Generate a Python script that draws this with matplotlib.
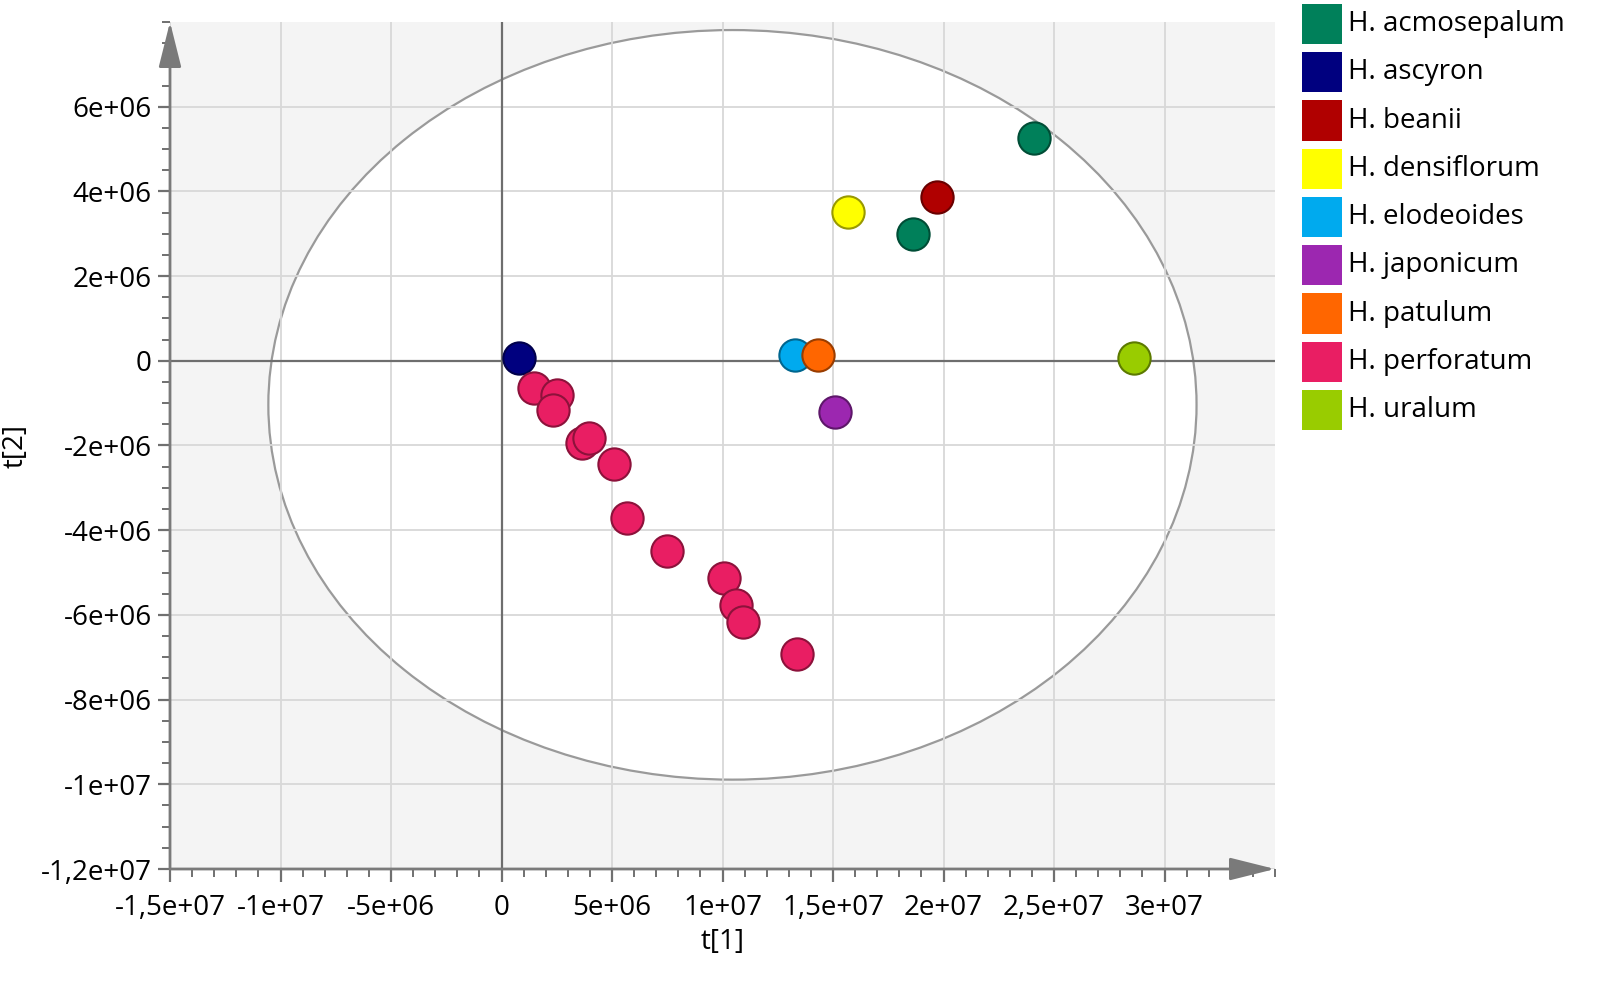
import matplotlib.pyplot as plt
import numpy as np
from matplotlib.patches import Ellipse, Rectangle
from matplotlib.ticker import MultipleLocator, FuncFormatter
from matplotlib.colors import to_rgb

plt.rcParams['font.family'] = ['Open Sans', 'DejaVu Sans']

# species, colours and score values (t[1], t[2])
species = ["H. acmosepalum", "H. ascyron", "H. beanii", "H. densiflorum",
           "H. elodeoides", "H. japonicum", "H. patulum", "H. perforatum", "H. uralum"]
colors = ["#00805A", "#00007F", "#B00000", "#FFFF00",
          "#00AAEE", "#9C27B0", "#FF6600", "#E91E63", "#99CC00"]

t1 = {
    "H. acmosepalum": [2.41e7, 1.86e7],
    "H. ascyron": [0.08e7],
    "H. beanii": [1.97e7],
    "H. densiflorum": [1.57e7],
    "H. elodeoides": [1.326e7],
    "H. japonicum": [1.51e7],
    "H. patulum": [1.43e7],
    "H. perforatum": [0.145e7, 0.249e7, 0.231e7, 0.362e7, 0.394e7, 0.511e7,
                      0.57e7, 0.751e7, 1.009e7, 1.059e7, 1.095e7, 1.335e7],
    "H. uralum": [2.86e7],
}
t2 = {
    "H. acmosepalum": [5.26e6, 3.0e6],
    "H. ascyron": [0.07e6],
    "H. beanii": [3.86e6],
    "H. densiflorum": [3.52e6],
    "H. elodeoides": [0.14e6],
    "H. japonicum": [-1.21e6],
    "H. patulum": [0.14e6],
    "H. perforatum": [-0.64e6, -0.81e6, -1.17e6, -1.95e6, -1.83e6, -2.43e6,
                      -3.71e6, -4.48e6, -5.14e6, -5.76e6, -6.17e6, -6.93e6],
    "H. uralum": [0.07e6],
}

# Hotelling ellipse (centre, full width, full height)
ell_center = (1.045e7, -1.04e6)
ell_width = 4.2e7
ell_height = 1.77e7

xlim = (-1.5e7, 3.5e7)
ylim = (-1.2e7, 8e6)

fig = plt.figure(figsize=(16, 9.9), dpi=100)
ax = fig.add_axes([170/1600, 1 - 869/990, (1275-170)/1600, (869-22)/990])
ax.set_facecolor("#f4f4f4")
ax.set_xlim(*xlim)
ax.set_ylim(*ylim)

ax.add_patch(Ellipse(ell_center, ell_width, ell_height, facecolor="white",
                     edgecolor="#9a9a9a", lw=1.6, zorder=0.2))
ax.set_axisbelow(True)
ax.grid(True, which="major", color="#d8d8d8", lw=1.3)
ax.axhline(0, color="#6e6e6e", lw=1.6, zorder=1)
ax.axvline(0, color="#6e6e6e", lw=1.6, zorder=1)

for sp, c in zip(species, colors):
    edge = tuple(v * 0.6 for v in to_rgb(c))
    ax.scatter(t1[sp], t2[sp], s=540, c=c, edgecolors=[edge], linewidths=1.5, zorder=3)

# ticks
ax.xaxis.set_minor_locator(MultipleLocator(1e6))
ax.yaxis.set_minor_locator(MultipleLocator(5e5))
ax.set_xticks(np.arange(-1.5e7, 3.01e7, 5e6))
ax.set_yticks(np.arange(-1.2e7, 6.01e6, 2e6))


def fmt(v, pos):
    if abs(v) < 1:
        return "0"
    return ("%g" % v).replace(".", ",")


ax.xaxis.set_major_formatter(FuncFormatter(fmt))
ax.yaxis.set_major_formatter(FuncFormatter(fmt))
ax.tick_params(which="major", length=9, width=1.6, color="#707070",
               labelsize=20, pad=4)
ax.tick_params(axis="x", which="major", pad=9)
ax.tick_params(which="minor", length=6, width=1.4, color="#707070")

for s in ax.spines.values():
    s.set_visible(False)

# axis lines with arrow heads
arrow = dict(arrowstyle="-|>,head_length=1.4,head_width=0.35", color="#7a7a7a",
             lw=2, mutation_scale=20, shrinkA=0, shrinkB=0)
ax.annotate("", xy=(0, 1), xytext=(0, 0), xycoords="axes fraction", arrowprops=arrow)
ax.annotate("", xy=(1, 0), xytext=(0, 0), xycoords="axes fraction", arrowprops=arrow)

ax.set_xlabel("t[1]", fontsize=20, labelpad=4)
ax.set_ylabel("t[2]", fontsize=20, labelpad=8)

# legend
for i, (sp, c) in enumerate(zip(species, colors)):
    yc = 1 - (24 + i * 48.25) / 990
    fig.add_artist(Rectangle((1302/1600, yc - 20/990), 40/1600, 40/990,
                             facecolor=c, edgecolor="none", transform=fig.transFigure))
    fig.text(1348/1600, yc, sp, fontsize=20, va="center", ha="left")

fig.savefig("out.png", dpi=100)
